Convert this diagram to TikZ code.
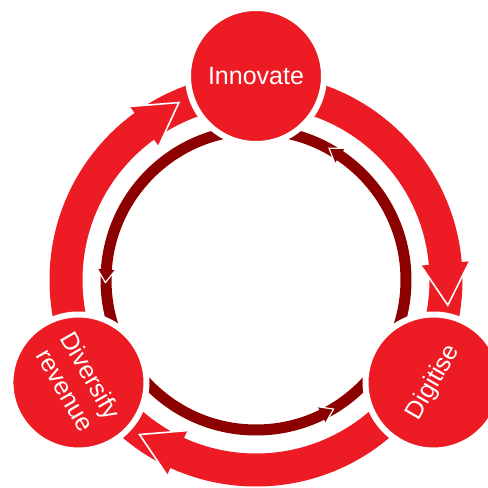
\documentclass[tikz,border=0pt]{standalone}
\usepackage{fontspec}
\setmainfont{Liberation Sans}
\definecolor{bred}{RGB}{237,28,36}
\definecolor{dred}{RGB}{140,0,0}
\begin{document}
\begin{tikzpicture}[x=1pt,y=1pt,
  stage/.style={circle, fill=bred, draw=white, line width=6pt, minimum size=136pt, inner sep=0pt,
    text=white, font=\fontsize{25}{29}\selectfont, align=center},
  outerring/.style={bred, line width=33pt},
  innerring/.style={dred, line width=11pt},
  tipline/.style={white, line width=1.6pt},
  smalltipline/.style={white, line width=1.2pt}]
\useasboundingbox (0,0) rectangle (488,488);
\clip (0,0) rectangle (488,488);
\begin{scope}[shift={(256,208)}]
  \coordinate (O) at (0,0);
  % outer clockwise ring
  \draw[outerring] (O) circle[radius=190];
  \foreach \t in {-7.5,113.5,233}{
    \fill[bred] ({\t+12.5}:165.5) -- (\t:193.5) -- ({\t+12.5}:214.5) -- cycle;
    \draw[tipline] ({\t+12.5}:165.5) -- (\t:193.5) -- ({\t+12.5}:214.5);
  }
  % inner anticlockwise ring
  \draw[innerring] (O) circle[radius=150];
  \foreach \t in {61,181,301}{
    \fill[dred] ({\t-5}:141) -- (\t:150.6) -- ({\t-5}:159) -- cycle;
    \draw[smalltipline] ({\t-5}:141) -- (\t:150.6) -- ({\t-5}:159);
  }
  % stages
  \node[stage] (innovate) at (90:204) {Innovate};
  \node[stage, rotate=60] (digitise) at (-30:205) {Digitise};
  \node[stage, rotate=-60] (diversify) at (210:205) {Diversify\\revenue};
\end{scope}
\end{tikzpicture}
\end{document}
